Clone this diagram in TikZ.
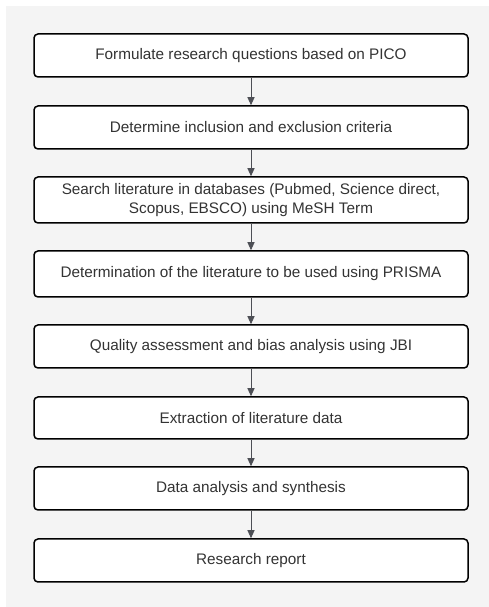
\documentclass[tikz,border=0pt]{standalone}
\usepackage{fontspec}
\setmainfont{Liberation Sans}
\usetikzlibrary{arrows.meta}
\definecolor{bggray}{HTML}{F4F4F4}
\definecolor{txtgray}{HTML}{333333}
\definecolor{arrgray}{HTML}{4D4F55}
\begin{document}
\begin{tikzpicture}[x=1pt,y=1pt,
  stepbox/.style={draw=black, line width=1.5pt, fill=white, rounded corners=4pt,
    minimum width=434pt, inner sep=0pt, align=center, font=\fontsize{15.3}{18.5}\selectfont, text=txtgray},
  flow/.style={draw=arrgray, line width=0.9pt, -{Triangle[length=8pt,width=7pt]}}]
\useasboundingbox (0,0) rectangle (489,607);
\fill[white] (0,0) rectangle (489,607);
\fill[bggray] (6,0) rectangle (489,601);
\node[stepbox, minimum height=43pt] (s1) at (251,551.5) {Formulate research questions based on PICO};
\node[stepbox, minimum height=43pt] (s2) at (251,479.5) {Determine inclusion and exclusion criteria};
\node[stepbox, minimum height=46pt] (s3) at (251,407) {Search literature in databases (Pubmed, Science direct,\\Scopus, EBSCO) using MeSH Term};
\node[stepbox, minimum height=46pt] (s4) at (251,333) {Determination of the literature to be used using PRISMA};
\node[stepbox, minimum height=43pt] (s5) at (251,260.5) {Quality assessment and bias analysis using JBI};
\node[stepbox, minimum height=42pt] (s6) at (251,189) {Extraction of literature data};
\node[stepbox, minimum height=43pt] (s7) at (251,118.5) {Data analysis and synthesis};
\node[stepbox, minimum height=43pt] (s8) at (251,46.5) {Research report};
\draw[flow] (s1) -- (s2);
\draw[flow] (s2) -- (s3);
\draw[flow] (s3) -- (s4);
\draw[flow] (s4) -- (s5);
\draw[flow] (s5) -- (s6);
\draw[flow] (s6) -- (s7);
\draw[flow] (s7) -- (s8);
\end{tikzpicture}
\end{document}
